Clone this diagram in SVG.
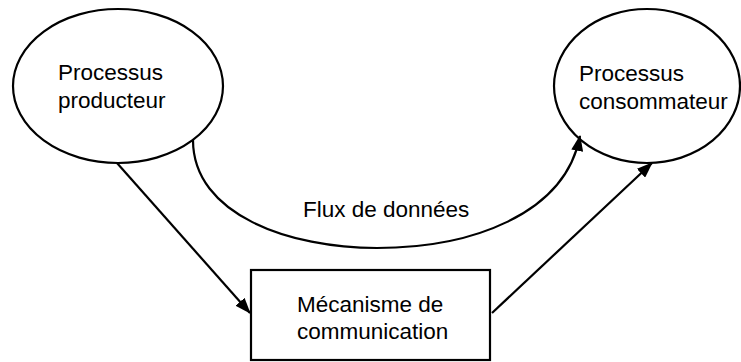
<svg xmlns="http://www.w3.org/2000/svg" width="741" height="362" viewBox="0 0 741 362">
<style>
.shape{fill:#fff;stroke:#000;stroke-width:2.2}
.conn{fill:none;stroke:#000;stroke-width:2.2}
text{font-family:"Liberation Sans",Arial,sans-serif;font-size:22.5px;fill:#000}
</style>
<defs>
<marker id="arr" viewBox="0 0 16 12" refX="15" refY="6" markerWidth="16" markerHeight="12" markerUnits="userSpaceOnUse" orient="auto">
<path d="M0,0 L16,6 L0,12 Z" fill="#000"/>
</marker>
</defs>
<rect width="741" height="362" fill="#fff"/>
<g id="producteur">
<ellipse class="shape" cx="118" cy="86" rx="105" ry="77"/>
<text x="58" y="80">Processus</text>
<text x="58" y="108">producteur</text>
</g>
<g id="consommateur">
<ellipse class="shape" cx="647" cy="86" rx="93" ry="77"/>
<text x="579" y="81">Processus</text>
<text x="579" y="109">consommateur</text>
</g>
<g id="mecanisme">
<rect class="shape" x="251" y="270" width="239" height="90"/>
<text x="297" y="312">Mécanisme de</text>
<text x="297" y="339">communication</text>
</g>
<g id="connectors">
<path class="conn" d="M193,140 C193,215 290,248 377,248 C470,248 565,215 580,136" marker-end="url(#arr)"/>
<line class="conn" x1="117" y1="163" x2="250" y2="313" marker-end="url(#arr)"/>
<line class="conn" x1="492" y1="313" x2="652" y2="163" marker-end="url(#arr)"/>
<text x="303" y="217">Flux de données</text>
</g>
</svg>
